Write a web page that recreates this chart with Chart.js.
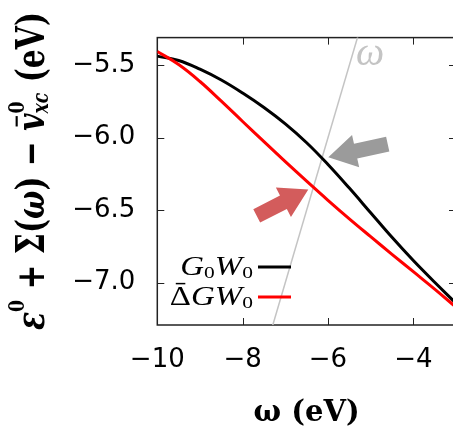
<!DOCTYPE html>
<html>
<head>
<meta charset="utf-8">
<script src="https://cdn.jsdelivr.net/npm/chart.js@4.4.1/dist/chart.umd.min.js"></script>
<style>
  html, body { margin: 0; padding: 0; overflow: hidden; background: #fff; }
  #wrap { width: 456px; height: 433px; }
</style>
</head>
<body>
<div id="wrap"><canvas id="chart" width="456" height="433"></canvas></div>
<script>
// data
const omega = [-10, -9.5, -9, -8.5, -8, -7.5, -7, -6.5, -6, -5.5, -5, -4.5, -4, -3.5, -3];
const g0w0  = [-5.437, -5.467, -5.527, -5.602, -5.692, -5.792, -5.905, -6.035, -6.185, -6.348, -6.518, -6.688, -6.848, -6.998, -7.143];
const dgw0  = [-5.405, -5.495, -5.612, -5.748, -5.888, -6.027, -6.165, -6.300, -6.432, -6.560, -6.683, -6.805, -6.925, -7.045, -7.170];
const omegaLine = [-7.6, -5.0];          // the line y = omega
const xTicks = [-10, -8, -6, -4];
const yTicks = [-7.0, -6.5, -6.0, -5.5];
const xRange = [-10, -3];
const yRange = [-7.293, -5.309];

// arrows pointing at the crossings, in data coordinates [tailX, tailY, tipX, tipY]
const grayArrow = [-4.60, -6.044, -5.993, -6.135];
const redArrow  = [-7.67, -6.540, -6.461, -6.357];

const fmt = (v, d) => (v < 0 ? '\u2212' : '') + Math.abs(v).toFixed(d);

function fontOf(p, base, family, bold) {
  return (p.i ? 'italic ' : '') + (bold ? 'bold ' : '') + (base * (p.s || 1)).toFixed(1) + 'px ' + family;
}

function measureParts(ctx, parts, base, family, bold) {
  let w = 0;
  parts.forEach(p => {
    ctx.font = fontOf(p, base, family, bold);
    if (!p.stay) w += ctx.measureText(p.t).width;
  });
  return w;
}

function drawParts(ctx, parts, base, family, bold) {
  let x = 0;
  parts.forEach(p => {
    ctx.font = fontOf(p, base, family, bold);
    const w = ctx.measureText(p.t).width;
    ctx.fillText(p.t, x, (p.dy || 0) * base);
    if (p.bar) {
      const size = base * (p.s || 1);
      ctx.fillRect(x + w * p.bar[0], -p.bar[2] * size, w * p.bar[1], size * 0.055);
    }
    if (!p.stay) x += w;
  });
}

const yTitleParts = [
  { t: '\u03b5', i: 1 }, { t: '0', s: 0.58, dy: -0.5 },
  { t: ' + \u03a3(' }, { t: '\u03c9', i: 1 }, { t: ') \u2212 ' },
  { t: 'v', i: 1, bar: [0.25, 0.6, 0.72] },
  { t: '0', s: 0.58, dy: -0.5, stay: 1 }, { t: 'xc', s: 0.58, i: 1, dy: 0.12 },
  { t: ' (eV)' }
];

const legendParts = [
  [{ t: 'G', i: 1 }, { t: '0', s: 0.65, dy: 0.11 }, { t: 'W', i: 1 }, { t: '0', s: 0.65, dy: 0.11 }],
  [{ t: '\u0394', bar: [0.28, 0.45, 0.82] }, { t: 'G', i: 1 }, { t: 'W', i: 1 }, { t: '0', s: 0.65, dy: 0.11 }]
];

function arrow(ctx, x0, y0, x1, y1, shaft, headW, headL, color) {
  const a = Math.atan2(y1 - y0, x1 - x0);
  const len = Math.hypot(x1 - x0, y1 - y0);
  ctx.save();
  ctx.translate(x0, y0);
  ctx.rotate(a);
  ctx.beginPath();
  ctx.moveTo(0, -shaft / 2);
  ctx.lineTo(len - headL, -shaft / 2);
  ctx.lineTo(len - headL, -headW / 2);
  ctx.lineTo(len, 0);
  ctx.lineTo(len - headL, headW / 2);
  ctx.lineTo(len - headL, shaft / 2);
  ctx.lineTo(0, shaft / 2);
  ctx.closePath();
  ctx.fillStyle = color;
  ctx.fill();
  ctx.restore();
}

// frame and inward ticks, like gnuplot
const framePlugin = {
  id: 'frame',
  beforeDatasetsDraw(chart) {
    const { ctx, chartArea: c, scales: { x, y } } = chart;
    ctx.save();
    ctx.strokeStyle = '#222';
    ctx.lineWidth = 1;
    ctx.beginPath();
    x.ticks.forEach(t => {
      const px = Math.round(x.getPixelForValue(t.value)) + 0.5;
      ctx.moveTo(px, c.bottom); ctx.lineTo(px, c.bottom - 7);
      ctx.moveTo(px, c.top); ctx.lineTo(px, c.top + 7);
    });
    y.ticks.forEach(t => {
      const py = Math.round(y.getPixelForValue(t.value)) + 0.5;
      ctx.moveTo(c.left, py); ctx.lineTo(c.left + 7, py);
      ctx.moveTo(c.right, py); ctx.lineTo(c.right - 7, py);
    });
    ctx.stroke();
    ctx.lineWidth = 1.5;
    ctx.strokeRect(c.left, c.top, c.right - c.left, c.bottom - c.top);
    ctx.restore();
  },
  afterDatasetsDraw(chart) {
    const { ctx, scales: { x, y } } = chart;
    const P = a => [x.getPixelForValue(a[0]), y.getPixelForValue(a[1]), x.getPixelForValue(a[2]), y.getPixelForValue(a[3])];
    arrow(ctx, ...P(grayArrow), 15, 33, 28, '#9b9b9b');
    arrow(ctx, ...P(redArrow), 15, 33, 28, '#d35c5c');

    // omega label next to the y = omega line
    ctx.save();
    ctx.fillStyle = '#c4c4c4';
    ctx.textBaseline = 'alphabetic';
    ctx.font = 'italic 40px "Liberation Serif"';
    ctx.fillText('\u03c9', 356, 65);
    ctx.restore();

    // legend: text right-aligned, sample line to its right
    const series = [chart.data.datasets[1], chart.data.datasets[0]];
    series.forEach((ds, k) => {
      const base = 263 + 30 * k;
      ctx.save();
      ctx.fillStyle = '#000';
      ctx.textBaseline = 'alphabetic';
      const w = measureParts(ctx, legendParts[k], 27, '"Liberation Serif"', false);
      ctx.translate(253, base + 12);
      ctx.scale(1.22, 1);
      ctx.translate(-w, 0);
      drawParts(ctx, legendParts[k], 27, '"Liberation Serif"', false);
      ctx.restore();
      ctx.save();
      ctx.strokeStyle = ds.borderColor;
      ctx.lineWidth = 3;
      ctx.beginPath();
      ctx.moveTo(258, base + 4);
      ctx.lineTo(291, base + 4);
      ctx.stroke();
      ctx.restore();
    });
  },
  afterDraw(chart) {
    // y axis title, rotated, with super- and subscripts
    const { ctx } = chart;
    const F = 31;
    ctx.save();
    ctx.fillStyle = '#000';
    ctx.textBaseline = 'alphabetic';
    const w = measureParts(ctx, yTitleParts, F, '"DejaVu Serif"', true);
    ctx.translate(43.5, 330);
    ctx.rotate(-Math.PI / 2);
    ctx.scale(318 / w, 1.25);
    drawParts(ctx, yTitleParts, F, '"DejaVu Serif"', true);
    ctx.restore();
  }
};

new Chart(document.getElementById('chart'), {
  type: 'line',
  data: {
    datasets: [
      {
        label: '\u0394GW0',
        data: omega.map((v, i) => ({ x: v, y: dgw0[i] })),
        borderColor: '#ff0000',
        borderWidth: 3,
        pointRadius: 0,
        tension: 0.4
      },
      {
        label: 'G0W0',
        data: omega.map((v, i) => ({ x: v, y: g0w0[i] })),
        borderColor: '#000000',
        borderWidth: 3,
        pointRadius: 0,
        tension: 0.4
      },
      {
        label: '\u03c9',
        data: omegaLine.map(v => ({ x: v, y: v })),
        borderColor: '#c4c4c4',
        borderWidth: 1.5,
        pointRadius: 0
      }
    ]
  },
  options: {
    responsive: false,
    animation: false,
    events: [],
    layout: { padding: { top: 28, right: 0, left: 0, bottom: 0 } },
    plugins: { legend: { display: false }, tooltip: { enabled: false } },
    scales: {
      x: {
        type: 'linear',
        min: xRange[0],
        max: xRange[1],
        afterBuildTicks: s => { s.ticks = xTicks.map(v => ({ value: v })); },
        afterFit: s => { s.height = 108; },
        grid: { display: false, drawTicks: false },
        border: { display: false },
        ticks: {
          padding: 20,
          color: '#000',
          font: { family: '"DejaVu Sans"', size: 26 },
          callback: v => fmt(v, 0)
        },
        title: {
          display: true,
          text: '\u03c9 (eV)',
          color: '#000',
          font: { family: '"DejaVu Serif"', weight: 'bold', size: 29 },
          padding: { top: 0, bottom: 2 }
        }
      },
      y: {
        type: 'linear',
        min: yRange[0],
        max: yRange[1],
        afterBuildTicks: s => { s.ticks = yTicks.map(v => ({ value: v })); },
        afterFit: s => { s.width = 157.3; },
        grid: { display: false, drawTicks: false },
        border: { display: false },
        ticks: {
          padding: 22,
          color: '#000',
          font: { family: '"DejaVu Sans"', size: 26 },
          callback: v => fmt(v, 1)
        }
      }
    }
  },
  plugins: [framePlugin]
});
</script>
</body>
</html>
